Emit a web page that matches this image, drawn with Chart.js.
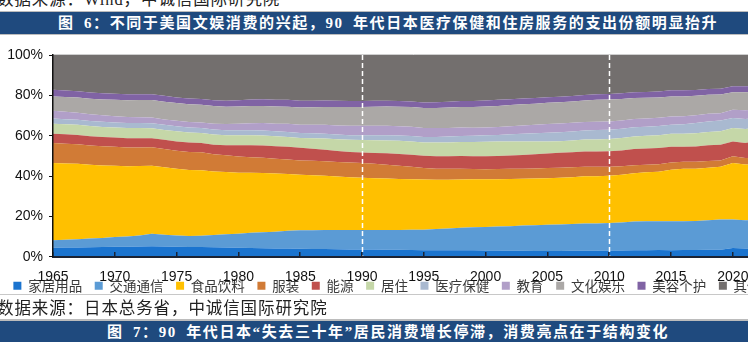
<!DOCTYPE html>
<html>
<head>
<meta charset="utf-8">
<script src="https://cdn.jsdelivr.net/npm/chart.js@4.4.1/dist/chart.umd.min.js"></script>
<style>
  html, body { margin: 0; padding: 0; background: #fff; overflow: hidden; width: 748px; height: 342px; }
  #page { position: relative; width: 774px; height: 342px; }
  .src { position: absolute; left: -3px; font-family: "Liberation Serif", "Noto Sans CJK SC", serif;
         font-size: 16.5px; letter-spacing: 0.9px; color: #222; white-space: nowrap; line-height: 20px; }
  .rule { position: absolute; left: 0; width: 774px; height: 1px; background: #bcbcbc; }
  .banner { position: absolute; left: 0; width: 774px; background: #1f4a7e; color: #fff;
            font-family: "Liberation Serif", "Noto Sans CJK SC", serif; font-weight: bold;
            font-size: 15px; letter-spacing: 1.6px; word-spacing: 4px; text-align: left; white-space: nowrap;
            line-height: 22px; height: 22px; box-sizing: border-box; }
  #chartBox { position: absolute; left: 0; top: 36px; width: 774px; height: 291px; }
</style>
</head>
<body>
<div id="page">
  <div class="src" style="top:-10px;">数据来源：Wind，中诚信国际研究院</div>
  <div class="rule" style="top:11px;"></div>
  <div class="banner" style="top:12px; padding-left:58px;">图 6：不同于美国文娱消费的兴起，90 年代日本医疗保健和住房服务的支出份额明显抬升</div>
  <div class="rule" style="top:34px;"></div>
  <div id="chartBox"><canvas id="chart"></canvas></div>
  <div class="rule" style="top:294px; background:#c8c8c8;"></div>
  <div class="src" style="top:299px;">数据来源：日本总务省，中诚信国际研究院</div>
  <div class="rule" style="top:319px; height:2px;"></div>
  <div class="banner" style="top:321px; padding-left:107px;">图 7：90 年代日本“失去三十年”居民消费增长停滞，消费亮点在于结构变化</div>
</div>

<script>
// Household consumption shares in Japan (% of total spending), 1965-2022
const years = [
  1965, 1966, 1967, 1968, 1969, 1970, 1971, 1972, 1973, 1974,
  1975, 1976, 1977, 1978, 1979, 1980, 1981, 1982, 1983, 1984,
  1985, 1986, 1987, 1988, 1989, 1990, 1991, 1992, 1993, 1994,
  1995, 1996, 1997, 1998, 1999, 2000, 2001, 2002, 2003, 2004,
  2005, 2006, 2007, 2008, 2009, 2010, 2011, 2012, 2013, 2014,
  2015, 2016, 2017, 2018, 2019, 2020, 2021, 2022
];

const homeGoods = [
  4.5, 4.6, 4.7, 4.8, 4.9, 5.0, 5.0, 5.1, 5.3, 5.2,
  5.0, 4.9, 4.9, 4.8, 4.7, 4.5, 4.4, 4.3, 4.2, 4.1,
  4.0, 3.9, 3.9, 3.8, 3.7, 3.7, 3.7, 3.6, 3.5, 3.4,
  3.3, 3.3, 3.3, 3.3, 3.3, 3.2, 3.2, 3.1, 3.0, 2.9,
  2.9, 2.9, 3.0, 3.0, 3.1, 3.2, 3.2, 3.3, 3.3, 3.4,
  3.3, 3.4, 3.4, 3.5, 3.6, 4.4, 4.1, 4.0
];
const transport = [
  3.7, 3.9, 4.1, 4.3, 4.5, 4.8, 5.1, 5.5, 6.2, 5.8,
  5.6, 5.5, 5.6, 6.0, 6.5, 7.0, 7.5, 7.9, 8.3, 8.8,
  9.2, 9.3, 9.4, 9.5, 9.6, 9.6, 9.6, 9.7, 9.8, 10.0,
  10.2, 10.5, 10.8, 11.1, 11.4, 11.6, 11.8, 12.1, 12.5, 12.8,
  13.0, 13.2, 13.3, 13.5, 13.5, 13.6, 13.9, 14.2, 14.4, 14.3,
  14.3, 14.2, 14.4, 14.7, 14.9, 14.1, 14.1, 14.3
];
const food = [
  38.3, 37.8, 37.3, 36.5, 35.9, 35.3, 34.8, 34.4, 33.6, 33.4,
  33.0, 32.7, 32.4, 31.5, 30.8, 30.2, 29.8, 29.4, 28.8, 28.2,
  27.5, 27.3, 26.9, 26.5, 26.2, 25.9, 25.7, 25.5, 25.3, 25.1,
  24.8, 24.4, 24.1, 23.9, 23.7, 23.6, 23.5, 23.4, 23.2, 23.1,
  23.1, 23.1, 23.2, 23.4, 23.4, 23.4, 23.6, 23.9, 24.2, 24.5,
  25.6, 26.0, 25.9, 26.0, 26.1, 28.0, 27.6, 27.3
];
const clothing = [
  9.9, 9.8, 9.7, 9.6, 9.5, 9.4, 9.3, 9.2, 9.2, 9.0,
  9.0, 8.9, 8.9, 8.6, 8.3, 8.0, 7.7, 7.5, 7.3, 7.2,
  7.1, 7.1, 7.2, 7.2, 7.2, 7.3, 7.1, 6.8, 6.5, 6.1,
  5.7, 5.5, 5.4, 5.3, 5.1, 5.0, 5.0, 5.0, 5.0, 5.0,
  5.0, 5.0, 4.9, 4.7, 4.6, 4.4, 4.2, 4.0, 3.8, 3.7,
  3.6, 3.5, 3.4, 3.3, 3.2, 3.3, 3.2, 3.3
];
const energy = [
  4.6, 4.6, 4.6, 4.6, 4.6, 4.6, 4.6, 4.6, 4.5, 4.6,
  4.6, 4.6, 4.6, 4.7, 5.0, 5.6, 5.9, 6.1, 6.2, 6.2,
  6.2, 6.0, 5.7, 5.5, 5.3, 5.2, 5.4, 5.7, 5.9, 6.0,
  6.1, 6.2, 6.3, 6.4, 6.4, 6.5, 6.5, 6.6, 6.8, 7.0,
  7.2, 7.4, 7.4, 7.6, 7.6, 7.7, 7.8, 8.0, 8.0, 8.0,
  7.7, 7.4, 7.6, 7.8, 7.8, 7.4, 7.4, 8.6
];
const housing = [
  5.0, 5.0, 5.0, 5.0, 5.0, 5.0, 5.0, 5.0, 4.9, 4.9,
  5.0, 5.0, 5.0, 5.0, 4.9, 4.9, 4.9, 4.9, 4.9, 4.9,
  4.9, 5.2, 5.5, 5.8, 6.0, 6.2, 6.3, 6.4, 6.5, 6.6,
  6.6, 6.7, 6.8, 6.9, 7.0, 7.1, 7.1, 6.9, 6.6, 6.3,
  6.0, 5.7, 5.8, 5.9, 6.0, 6.1, 6.2, 6.2, 6.3, 6.4,
  6.5, 6.5, 6.6, 6.6, 6.6, 6.7, 7.0, 6.5
];
const health = [
  2.5, 2.5, 2.5, 2.5, 2.5, 2.5, 2.5, 2.5, 2.5, 2.5,
  2.5, 2.5, 2.5, 2.5, 2.5, 2.5, 2.5, 2.5, 2.5, 2.5,
  2.5, 2.4, 2.4, 2.3, 2.3, 2.3, 2.4, 2.5, 2.6, 2.7,
  2.7, 2.8, 2.9, 3.0, 3.1, 3.2, 3.3, 3.6, 3.9, 4.1,
  4.3, 4.5, 4.5, 4.5, 4.6, 4.6, 4.6, 4.6, 4.5, 4.5,
  4.5, 4.7, 5.0, 5.2, 5.4, 4.9, 4.9, 4.8
];
const education = [
  3.9, 3.7, 3.5, 3.3, 3.2, 3.1, 3.0, 2.9, 2.8, 2.7,
  2.7, 2.7, 2.7, 2.9, 3.1, 3.3, 3.5, 3.7, 3.8, 4.0,
  4.1, 4.2, 4.4, 4.5, 4.6, 4.7, 4.7, 4.7, 4.6, 4.6,
  4.5, 4.4, 4.3, 4.2, 4.0, 3.9, 3.9, 4.0, 4.1, 4.2,
  4.3, 4.3, 4.3, 4.2, 4.2, 4.1, 4.1, 4.1, 4.1, 4.1,
  4.1, 4.0, 3.9, 3.8, 3.6, 4.1, 4.3, 4.2
];
const culture = [
  7.1, 7.3, 7.5, 7.7, 7.9, 8.1, 8.3, 8.5, 8.7, 8.8,
  8.8, 8.8, 8.8, 8.7, 8.6, 8.5, 8.5, 8.5, 8.5, 8.5,
  8.5, 8.7, 8.9, 9.1, 9.3, 9.4, 9.5, 9.6, 9.7, 9.8,
  9.9, 10.0, 10.1, 10.2, 10.3, 10.4, 10.5, 10.5, 10.5, 10.5,
  10.5, 10.5, 10.6, 10.7, 10.8, 10.8, 10.6, 10.4, 10.2, 10.0,
  9.9, 9.8, 9.6, 9.4, 9.2, 8.6, 8.9, 8.8
];
const beauty = [
  3.3, 3.2, 3.2, 3.1, 3.1, 3.0, 3.0, 2.9, 2.9, 2.9,
  2.8, 2.8, 2.8, 2.9, 3.0, 3.1, 3.2, 3.3, 3.3, 3.4,
  3.4, 3.3, 3.2, 3.1, 3.0, 2.9, 2.9, 2.8, 2.8, 2.7,
  2.7, 2.8, 2.8, 2.9, 2.9, 3.0, 3.0, 2.9, 2.9, 2.8,
  2.8, 2.7, 2.7, 2.7, 2.8, 2.8, 2.8, 2.9, 2.9, 3.0,
  3.0, 3.0, 2.9, 2.9, 2.9, 3.0, 3.0, 2.9
];
const other = [
  17.2, 17.6, 17.9, 18.6, 18.9, 19.2, 19.4, 19.4, 19.4, 20.2,
  21.0, 21.6, 21.8, 22.4, 22.6, 22.4, 22.1, 21.9, 22.2, 22.2,
  22.6, 22.6, 22.5, 22.7, 22.8, 22.8, 22.7, 22.7, 22.8, 23.0,
  23.5, 23.4, 23.2, 22.8, 22.8, 22.5, 22.2, 21.9, 21.5, 21.3,
  20.9, 20.7, 20.3, 19.8, 19.4, 19.3, 19.0, 18.4, 18.3, 18.1,
  17.5, 17.5, 17.3, 16.8, 16.7, 15.5, 15.5, 15.3
];

const seriesNames = ['家居用品', '交通通信', '食品饮料', '服装', '能源', '居住', '医疗保健', '教育', '文化娱乐', '美容个护', '其他'];
const seriesValues = [homeGoods, transport, food, clothing, energy, housing, health, education, culture, beauty, other];
const seriesColors = ['#1b74cf', '#5b9bd5', '#ffc000', '#d17b36', '#c0504d', '#c5d7a8', '#a9b9d0', '#b19fc8', '#aba8a6', '#8063a4', '#736f6e'];

// Year ticks every five years; the axis runs a little past the last year
const tickStep = 5;
const axisStart = 1965;
const axisEnd = 2023.33;

// Years marked with white dashed guide lines
const markerYears = [1990, 2010];

const datasets = seriesNames.map((name, i) => ({
  label: name,
  data: years.map((yr, k) => ({ x: yr, y: seriesValues[i][k] })),
  backgroundColor: seriesColors[i],
  borderColor: seriesColors[i],
  borderWidth: 0,
  pointRadius: 0,
  tension: 0,
  fill: i === 0 ? 'origin' : '-1'
}));

// White dashed verticals plus the thin frame line along the top of the plot
const guideLines = {
  id: 'guideLines',
  afterDatasetsDraw(chart) {
    const { ctx, chartArea, scales } = chart;
    ctx.save();
    ctx.strokeStyle = '#cfcfcf';
    ctx.lineWidth = 1;
    ctx.beginPath();
    ctx.moveTo(chartArea.left, chartArea.top - 0.5);
    ctx.lineTo(chartArea.right, chartArea.top - 0.5);
    ctx.stroke();
    ctx.strokeStyle = '#ffffff';
    ctx.lineWidth = 1.5;
    ctx.setLineDash([5, 3]);
    markerYears.forEach(yr => {
      const x = Math.round(scales.x.getPixelForValue(yr)) + 0.5;
      ctx.beginPath();
      ctx.moveTo(x, chartArea.top);
      ctx.lineTo(x, chartArea.bottom);
      ctx.stroke();
    });
    ctx.restore();
  }
};

// Legend sits tight under the year labels
const legendPlacement = {
  id: 'legendPlacement',
  beforeDraw(chart) {
    const lg = chart.legend;
    if (!lg) return;
    const h = lg.bottom - lg.top;
    lg.top = chart.chartArea.bottom + 9.6;
    lg.bottom = lg.top + h;
  }
};

new Chart(document.getElementById('chart'), {
  type: 'line',
  data: { datasets },
  plugins: [guideLines, legendPlacement],
  options: {
    responsive: true,
    maintainAspectRatio: false,
    animation: false,
    events: [],
    layout: { padding: { top: 19, right: 0, left: 0, bottom: 0 } },
    plugins: {
      tooltip: { enabled: false },
      legend: {
        position: 'bottom',
        align: 'center',
        labels: {
          boxWidth: 8,
          boxHeight: 8,
          padding: 12.6,
          color: '#3a3a3a',
          font: { family: '"Noto Sans CJK SC", sans-serif', size: 13.5 }
        }
      }
    },
    scales: {
      x: {
        type: 'linear',
        min: axisStart,
        max: axisEnd,
        afterFit(scale) { scale.height = 34; },
        grid: { drawOnChartArea: false, tickLength: -5, color: '#1c2333', lineWidth: 1.5, z: 1 },
        border: { display: true, color: '#1c2333', width: 2, z: 1 },
        ticks: {
          stepSize: tickStep,
          includeBounds: false,
          autoSkip: false,
          maxRotation: 0,
          padding: 17,
          color: '#111',
          font: { family: '"Liberation Sans", Arial, sans-serif', size: 14 },
          callback: v => String(v)
        }
      },
      y: {
        stacked: true,
        min: 0,
        max: 100,
        afterFit(scale) { scale.width = 53; },
        grid: { drawOnChartArea: false, tickLength: 4, color: '#111', lineWidth: 1 },
        border: { display: true, color: '#111', width: 1.5, z: 1 },
        ticks: {
          stepSize: 20,
          padding: 6,
          color: '#111',
          font: { family: '"Liberation Sans", Arial, sans-serif', size: 14 },
          callback: v => v + '%'
        }
      }
    }
  }
});
</script>
</body>
</html>
